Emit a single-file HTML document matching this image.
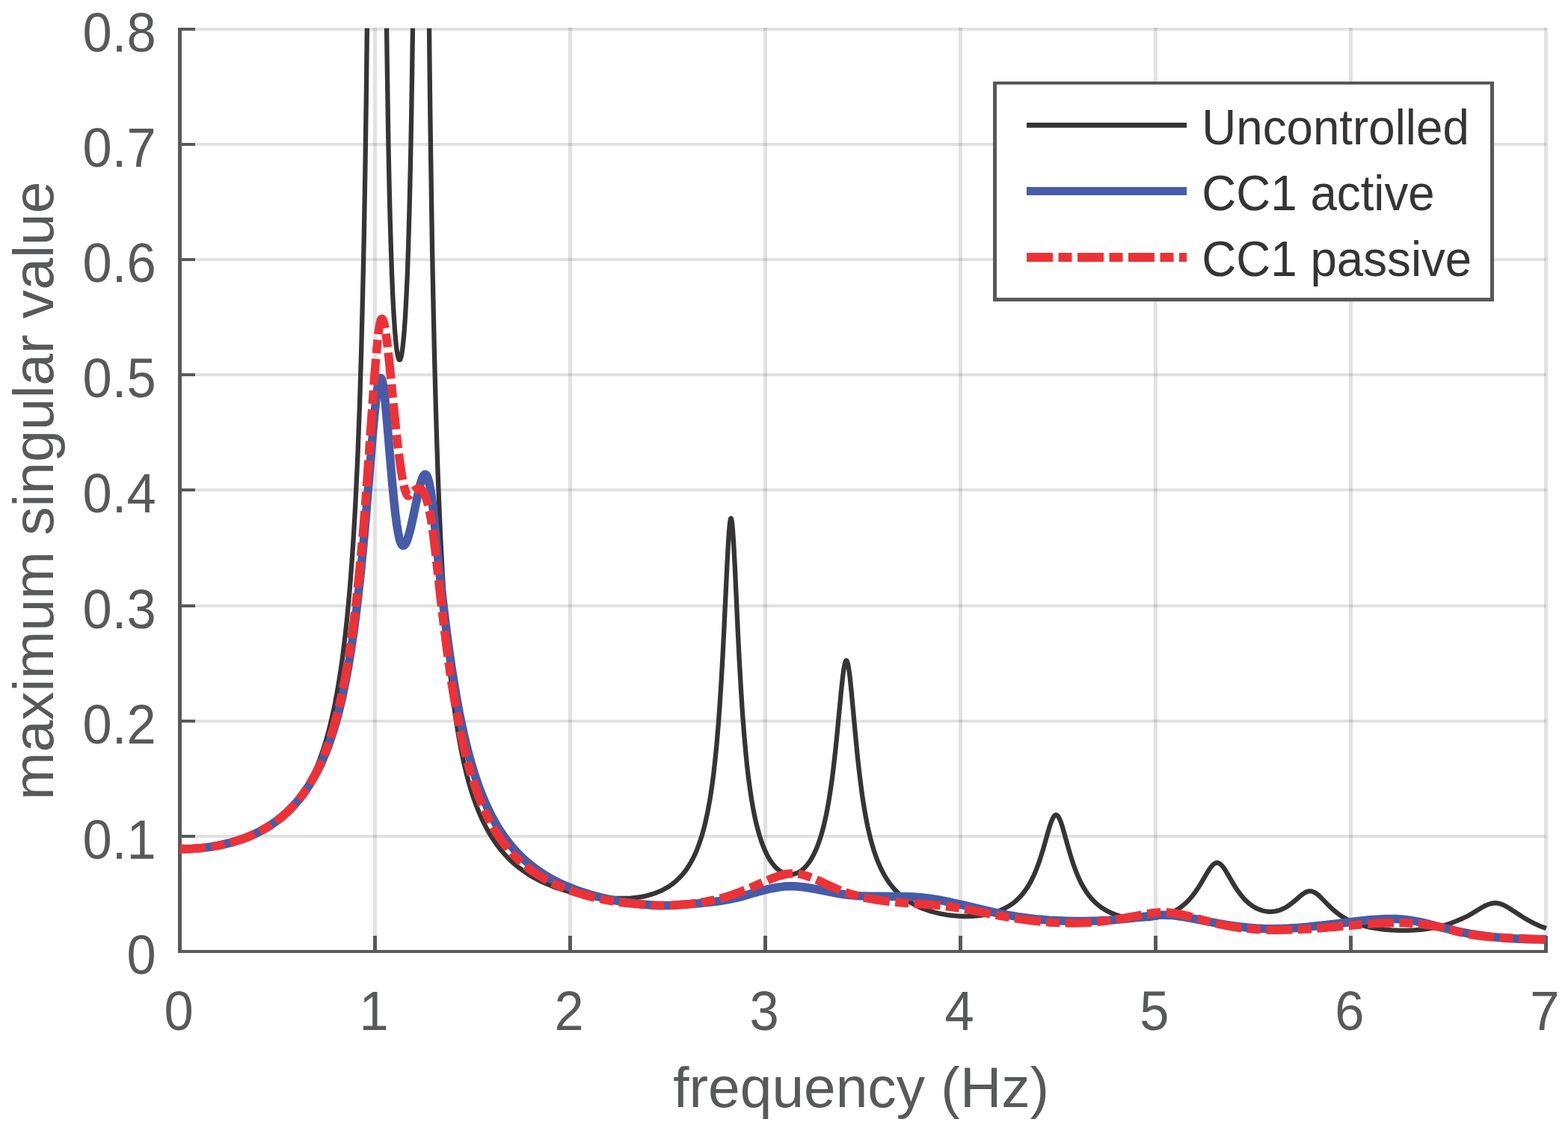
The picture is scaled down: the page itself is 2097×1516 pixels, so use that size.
<!DOCTYPE html>
<html lang="en"><head><meta charset="utf-8"><title>maximum singular value vs frequency</title>
<style>
html,body{margin:0;padding:0;background:#fff;}
body{width:2097px;height:1516px;overflow:hidden;}
svg{display:block;}
text{font-family:"Liberation Sans",Arial,Helvetica,sans-serif;}
.tk{font-size:70.5px;fill:#58595b;}
.lb{font-size:76.7px;fill:#58595b;}
.lg{font-size:63.7px;fill:#373435;}
</style></head><body>
<svg xmlns="http://www.w3.org/2000/svg" width="2097" height="1516" viewBox="0 0 2097 1516">
<defs><clipPath id="pc"><rect x="230.0" y="37.7" width="1850.0" height="1242.3"/></clipPath></defs>
<rect width="2097" height="1516" fill="#fff"/>

<g fill="#22262c" fill-opacity="0.135" shape-rendering="crispEdges">
<rect x="499" y="37" width="5" height="1214"/>
<rect x="760" y="37" width="5" height="1214"/>
<rect x="1021" y="37" width="5" height="1214"/>
<rect x="1282" y="37" width="5" height="1214"/>
<rect x="1543" y="37" width="5" height="1214"/>
<rect x="1804" y="37" width="5" height="1214"/>
<rect x="2065" y="37" width="5" height="1214"/>
<rect x="261" y="1116" width="1807" height="4"/>
<rect x="261" y="962" width="1807" height="4"/>
<rect x="261" y="808" width="1807" height="4"/>
<rect x="261" y="653" width="1807" height="4"/>
<rect x="261" y="499" width="1807" height="4"/>
<rect x="261" y="345" width="1807" height="4"/>
<rect x="261" y="191" width="1807" height="4"/>
<rect x="261" y="37" width="1807" height="4"/>
</g>
<g fill="#58595b" shape-rendering="crispEdges">
<rect x="238" y="37" width="5" height="1237"/>
<rect x="238" y="1270" width="1832" height="4"/>
<rect x="499" y="1251" width="5" height="19"/>
<rect x="760" y="1251" width="5" height="19"/>
<rect x="1021" y="1251" width="5" height="19"/>
<rect x="1282" y="1251" width="5" height="19"/>
<rect x="1543" y="1251" width="5" height="19"/>
<rect x="1804" y="1251" width="5" height="19"/>
<rect x="2065" y="1251" width="5" height="19"/>
<rect x="243" y="1116" width="18" height="4"/>
<rect x="243" y="962" width="18" height="4"/>
<rect x="243" y="808" width="18" height="4"/>
<rect x="243" y="653" width="18" height="4"/>
<rect x="243" y="499" width="18" height="4"/>
<rect x="243" y="345" width="18" height="4"/>
<rect x="243" y="191" width="18" height="4"/>
<rect x="243" y="37" width="18" height="4"/>
</g>
<g clip-path="url(#pc)" fill="none" stroke-linejoin="round">
<path d="M240.4 1135.1 L251.4 1134.9 L262.1 1134.3 L272.6 1133.3 L283.1 1131.8 L293.4 1130 L303.1 1127.8 L312.9 1125.2 L322.1 1122.3 L331.1 1119 L339.6 1115.3 L347.9 1111.3 L355.6 1107 L363.1 1102.3 L366.9 1099.7 L370.4 1097.2 L373.9 1094.5 L377.4 1091.6 L383.9 1085.9 L389.6 1080.2 L395.1 1074.3 L400.1 1068.3 L404.6 1062.2 L408.6 1056.2 L412.6 1049.3 L416.4 1042 L419.9 1034.5 L423.9 1024.9 L428.1 1013.7 L432.1 1002.2 L435.6 991.1 L438.9 979.7 L442.1 967.1 L445.1 954.1 L447.9 941.1 L450.6 926.6 L453.1 912.1 L455.6 896.1 L457.9 880.2 L460.1 862.7 L462.1 845.6 L464.1 826.8 L466.1 806 L467.9 785.9 L469.6 763.8 L471.4 739.4 L472.9 716.3 L474.4 690.9 L475.9 662.9 L478.4 609 L479.6 578.1 L480.9 543.8 L483.1 472.1 L485.1 394.2 L486.9 311.5 L488.4 226 L489.9 122.5 L491.1 17.8 L492.5 -121.1 M515.5 -111.2 L517 31.9 L517.8 89.2 L518.8 154.4 L519.5 196.4 L520.5 244.8 L521.5 286 L522.8 329.3 L524 364.9 L525.2 394.3 L526.5 418.4 L528 441.2 L529.5 458.3 L530.2 465 L531 470.4 L531.8 474.7 L532.5 477.9 L533.2 480 L533.8 480.8 L534.2 481.1 L534.8 481 L535.2 480.4 L536 478.6 L536.8 475.8 L537.5 471.9 L538.2 466.8 L539 460.7 L540.5 444.6 L542 423.2 L543.5 395.7 L544.8 367.3 L546 333 L547.2 291.7 L548.2 252.7 L549.2 207.1 L550.2 153.8 L551.2 90.9 L552 36.1 L553.5 -99.2 M572.6 -103.1 L573.6 0.5 L574.6 91.7 L575.6 172.1 L576.9 259.9 L578.1 335.8 L579.4 401.9 L580.9 470.5 L582.4 529.6 L583.9 581 L585.6 633 L587.6 683.8 L589.6 727.4 L591.9 769.5 L594.1 805.7 L596.6 840.3 L599.4 873.1 L602.4 903.6 L605.4 929.9 L608.6 954.5 L610.4 966.3 L612.4 978.8 L614.4 990.3 L616.4 1001 L618.4 1010.9 L620.6 1021.1 L622.9 1030.6 L625.1 1039.4 L627.6 1048.5 L630.1 1056.9 L632.6 1064.6 L635.4 1072.5 L638.1 1079.8 L641.1 1087.2 L644.1 1094 L647.4 1100.8 L650.6 1107.1 L653.9 1112.9 L657.4 1118.8 L661.1 1124.5 L664.9 1129.8 L668.9 1135 L672.9 1139.8 L677.1 1144.5 L681.6 1149.1 L686.1 1153.3 L689.4 1156.2 L692.6 1158.8 L699.4 1164 L706.4 1168.7 L713.9 1173.2 L721.6 1177.3 L729.9 1181.2 L738.4 1184.7 L747.1 1187.8 L756.4 1190.7 L765.9 1193.2 L775.9 1195.4 L785.9 1197.2 L795.9 1198.7 L806.1 1199.7 L817.9 1200.6 L828.6 1201 L836.6 1201 L844.1 1200.6 L851.1 1199.9 L858.4 1198.8 L865.4 1197.3 L872.1 1195.4 L878.4 1193.2 L884.4 1190.7 L889.9 1187.8 L895.1 1184.7 L900.1 1181.1 L904.9 1177.1 L909.1 1173 L913.4 1168.3 L917.4 1163.2 L921.1 1157.6 L924.1 1152.6 L926.9 1147.4 L929.4 1142.2 L931.9 1136.4 L934.4 1129.9 L936.6 1123.5 L938.9 1116.3 L940.9 1109.2 L942.9 1101.3 L944.6 1093.8 L946.4 1085.4 L948.1 1076.2 L949.9 1066 L951.4 1056.3 L952.9 1045.7 L954.4 1034 L956.6 1014.1 L958.6 993.7 L960.6 970.1 L962.6 942.8 L964.6 911.4 L966.6 875.6 L968.6 835.5 L972.4 755.6 L973.9 727.4 L974.9 712.1 L975.9 700.7 L976.4 696.9 L976.9 694.3 L977.1 693.5 L977.4 693.1 L977.6 693 L977.9 693.3 L978.4 694.9 L978.9 697.8 L979.4 702.1 L980.1 710.7 L981.1 725.7 L982.9 759.1 L986.6 840.1 L988.6 880.4 L990.9 920.6 L993.1 955.1 L995.4 984.3 L997.9 1011.7 L999.1 1023.7 L1000.6 1036.7 L1001.9 1046.6 L1003.4 1057.4 L1005.1 1068.8 L1007.1 1080.3 L1009.1 1090.5 L1011.1 1099.6 L1013.4 1108.6 L1015.6 1116.6 L1018.1 1124.4 L1020.9 1131.8 L1023.6 1138.2 L1026.3 1143.8 L1029.3 1149.1 L1032.6 1153.9 L1035.8 1157.9 L1037.6 1159.7 L1039.3 1161.4 L1041.1 1162.9 L1042.8 1164.2 L1044.6 1165.3 L1046.6 1166.4 L1048.3 1167.2 L1050.1 1167.9 L1051.8 1168.4 L1053.8 1168.8 L1055.6 1169 L1057.6 1169 L1059.6 1168.9 L1061.3 1168.6 L1063.3 1168.1 L1065.1 1167.5 L1066.8 1166.7 L1068.6 1165.8 L1070.3 1164.8 L1072.1 1163.5 L1073.8 1162.1 L1075.6 1160.5 L1078.8 1157.1 L1081.8 1153.2 L1084.8 1148.6 L1087.8 1143.2 L1090.6 1137.5 L1093.1 1131.5 L1095.6 1124.7 L1098.1 1116.9 L1099.8 1110.8 L1101.6 1104.1 L1103.3 1096.7 L1105.1 1088.6 L1106.8 1079.6 L1108.3 1071.2 L1109.8 1062 L1111.3 1052 L1112.8 1041.2 L1114.3 1029.5 L1117.3 1003.1 L1119.8 978.4 L1124.8 925.7 L1127.1 904.7 L1128.3 895.3 L1129.6 888.3 L1130.3 885.4 L1130.8 884.1 L1131.3 883.3 L1131.8 883 L1132.3 883.2 L1132.8 884 L1133.3 885.3 L1134.1 888.1 L1135.3 895.1 L1136.6 904.6 L1138.8 926.1 L1144.1 983.2 L1146.8 1011.1 L1148.6 1027.3 L1150.1 1040 L1151.6 1051.9 L1153.3 1064.5 L1155.1 1076 L1156.8 1086.4 L1158.6 1095.9 L1160.3 1104.6 L1162.1 1112.5 L1164.1 1120.7 L1166.1 1128.2 L1168.3 1135.7 L1171.1 1144 L1173.8 1151.3 L1176.8 1158.3 L1179.8 1164.6 L1183.1 1170.6 L1186.6 1176.3 L1190.3 1181.6 L1194.1 1186.4 L1198.3 1191.1 L1202.6 1195.3 L1207.3 1199.3 L1212.3 1203 L1217.6 1206.5 L1223.1 1209.5 L1229.1 1212.5 L1235.3 1215.1 L1242.6 1217.6 L1250.3 1219.8 L1258.3 1221.6 L1266.8 1223.1 L1275.3 1224.2 L1284.1 1224.8 L1292.6 1225 L1300.8 1224.8 L1308.6 1224.1 L1316.1 1223.1 L1323.3 1221.7 L1330.1 1219.8 L1336.3 1217.7 L1339.3 1216.4 L1342.3 1215 L1345.1 1213.6 L1347.8 1212.1 L1350.6 1210.4 L1353.1 1208.7 L1357.1 1205.7 L1361.1 1202.1 L1364.6 1198.6 L1368.1 1194.5 L1371.3 1190.2 L1374.6 1185.4 L1377.6 1180.3 L1380.3 1175 L1383.1 1169.2 L1385.6 1163.3 L1388.1 1156.7 L1390.6 1149.6 L1392.8 1142.6 L1395.1 1135.2 L1402.8 1108.1 L1404.3 1103.3 L1405.8 1099 L1407.6 1094.7 L1408.6 1092.8 L1409.3 1091.6 L1410.1 1090.6 L1410.8 1090 L1411.6 1089.6 L1412.3 1089.4 L1413.1 1089.6 L1413.8 1090 L1414.6 1090.7 L1415.6 1092 L1416.3 1093.3 L1417.3 1095.4 L1419.1 1099.9 L1420.6 1104.4 L1422.3 1110.3 L1428.8 1133.7 L1432.1 1144.8 L1435.6 1155.7 L1439.1 1165.3 L1442.1 1172.5 L1445.3 1179.4 L1448.6 1185.5 L1452.1 1191.2 L1454.3 1194.4 L1456.8 1197.8 L1459.3 1200.8 L1461.8 1203.5 L1464.6 1206.3 L1467.3 1208.7 L1470.3 1211.2 L1473.3 1213.4 L1476.6 1215.5 L1479.8 1217.4 L1483.3 1219.2 L1486.8 1220.8 L1490.6 1222.3 L1494.3 1223.6 L1498.1 1224.7 L1502.1 1225.7 L1506.6 1226.6 L1511.1 1227.4 L1515.8 1227.9 L1520.6 1228.3 L1525.3 1228.4 L1530.1 1228.4 L1534.8 1228.1 L1539.6 1227.7 L1544.1 1227 L1548.6 1226.2 L1552.8 1225.1 L1557.1 1223.9 L1561.1 1222.5 L1565.1 1220.9 L1568.8 1219.1 L1572.3 1217.2 L1575.1 1215.5 L1577.8 1213.7 L1580.3 1211.9 L1582.8 1209.8 L1585.3 1207.7 L1587.6 1205.5 L1590.1 1203 L1592.3 1200.5 L1594.8 1197.5 L1597.1 1194.5 L1599.3 1191.4 L1601.8 1187.8 L1606.3 1180.6 L1615.1 1165.7 L1617.3 1162.2 L1619.1 1159.7 L1621.3 1157 L1622.6 1155.7 L1623.6 1154.9 L1624.8 1154.2 L1625.8 1153.7 L1626.8 1153.5 L1627.8 1153.4 L1628.8 1153.5 L1629.8 1153.8 L1630.8 1154.3 L1631.8 1155 L1633.8 1156.8 L1636.1 1159.5 L1637.8 1161.9 L1639.8 1165.1 L1649.3 1181.4 L1651.8 1185.5 L1654.3 1189.3 L1657.1 1193.2 L1659.8 1196.8 L1662.6 1200.1 L1665.3 1203.1 L1668.3 1205.9 L1671.3 1208.5 L1674.6 1210.9 L1677.8 1212.9 L1681.1 1214.6 L1684.6 1216.1 L1687.8 1217.2 L1691.3 1218 L1694.3 1218.5 L1697.3 1218.8 L1700.3 1218.8 L1703.3 1218.5 L1706.3 1218.1 L1709.1 1217.4 L1712.1 1216.5 L1714.8 1215.4 L1717.3 1214.2 L1720.1 1212.7 L1722.6 1211.1 L1725.3 1209.2 L1730.1 1205.5 L1739.8 1197.1 L1742.1 1195.4 L1744.1 1194 L1746.3 1192.7 L1748.6 1191.8 L1750.6 1191.4 L1752.6 1191.3 L1754.6 1191.6 L1756.8 1192.4 L1759.1 1193.6 L1761.6 1195.3 L1763.6 1197 L1765.8 1199.1 L1777.6 1211.1 L1780.8 1214.2 L1784.1 1217.1 L1787.6 1220 L1791.3 1222.8 L1795.1 1225.4 L1799.1 1227.8 L1803.6 1230.2 L1808.1 1232.2 L1812.8 1234.2 L1817.8 1235.9 L1823.1 1237.5 L1828.6 1238.9 L1834.3 1240.1 L1840.6 1241.2 L1845.6 1241.9 L1850.6 1242.5 L1860.8 1243.4 L1871.3 1243.8 L1882.1 1243.8 L1892.6 1243.4 L1902.6 1242.5 L1907.6 1241.9 L1912.3 1241.2 L1917.1 1240.4 L1921.6 1239.5 L1928.1 1238 L1934.3 1236.2 L1940.3 1234.2 L1946.3 1231.9 L1955.6 1228 L1962.1 1224.9 L1968.6 1221.2 L1981.1 1213.6 L1984.1 1211.9 L1986.6 1210.7 L1989.8 1209.3 L1993.8 1208.1 L1996.8 1207.4 L1999.6 1207.2 L2002.6 1207.4 L2005.6 1208 L2008.3 1208.9 L2011.3 1210.2 L2014.1 1211.6 L2017.1 1213.4 L2035.6 1225.4 L2040.8 1228.6 L2045.6 1231.3 L2051.6 1234.4 L2058.1 1237.4 L2062.1 1239.1 L2067.9 1241.1" stroke="#373435" stroke-width="6.3"/>
<path d="M240.4 1135.1 L248.9 1135 L257.4 1134.6 L265.9 1134 L274.1 1133.1 L282.4 1132 L290.4 1130.6 L298.1 1129 L305.9 1127.2 L313.4 1125.1 L320.6 1122.8 L327.6 1120.3 L334.6 1117.5 L341.4 1114.5 L347.9 1111.3 L354.1 1107.9 L360.1 1104.2 L365.9 1100.4 L371.4 1096.4 L376.6 1092.3 L381.9 1087.7 L386.9 1083 L391.6 1078.1 L396.1 1073.1 L400.6 1067.7 L405.1 1061.8 L409.6 1055.5 L413.9 1049.1 L418.1 1042.1 L422.1 1035.1 L425.9 1027.9 L429.4 1020.7 L432.6 1013.3 L435.6 1006.1 L438.4 999 L441.1 991.4 L443.6 984 L446.1 976.1 L448.6 967.7 L451.1 958.7 L453.4 950.1 L455.6 940.9 L457.9 931.1 L460.1 920.6 L462.1 910.7 L464.1 900.1 L466.1 888.9 L469.9 865.8 L473.4 841.7 L476.9 814.6 L480.1 786.5 L483.4 755.5 L486.1 726.8 L489.1 693.1 L499.1 572.6 L500.9 553.6 L502.6 536.8 L503.6 528.5 L504.6 521.2 L505.6 515.2 L506.6 510.5 L507.6 507.3 L508.4 505.9 L508.9 505.5 L509.4 505.5 L509.9 505.9 L510.2 506.4 L510.2 506.4 L510.7 507.5 L511.2 509.1 L511.7 511.2 L512.5 515.2 L513.7 524 L515.2 537.4 L517.7 564.5 L522.5 621.6 L524.5 644.5 L526.7 668 L528.7 686.3 L530.7 701.6 L532.5 712.3 L533.5 717.2 L534.2 720.3 L535.2 723.7 L536.2 726.2 L537.2 727.9 L537.7 728.5 L538.5 729.1 L539 729.3 L539.5 729.3 L540 729.2 L540.7 728.7 L541.2 728.3 L542 727.3 L543.2 725.1 L544.5 722.2 L545.7 718.7 L548 710.9 L550.2 701.6 L552.5 691.3 L558 664.9 L560.5 653.8 L561.7 648.9 L563 644.4 L564.2 640.7 L565.2 638.2 L566.5 635.9 L567.5 634.8 L568.2 634.3 L568.7 634.3 L569.2 634.4 L569.7 634.7 L570.2 635.2 L570.7 635.9 L571.7 637.9 L572.7 640.8 L573.7 644.5 L575 650.5 L576.2 657.7 L577.5 666.4 L578.7 676.4 L580.5 692.6 L584.7 735.9 L587.2 759.9 L590.5 788.5 L595.2 828 L598.2 851.5 L601.2 873.5 L604 892.4 L607 911.6 L610.5 932.4 L614.2 952.6 L618 971 L621.7 987.8 L625.7 1004 L630 1019.6 L634.5 1034.5 L639 1047.9 L643.7 1060.6 L648.5 1072.1 L653.5 1083 L656 1088.1 L658.7 1093.4 L661.5 1098.4 L664.2 1103.2 L667.2 1108.1 L670.2 1112.7 L673.2 1117.2 L676.2 1121.3 L679.5 1125.6 L682.7 1129.7 L686 1133.6 L689.5 1137.5 L693 1141.2 L696.7 1145 L700.5 1148.5 L704.2 1151.9 L708 1155 L712 1158.2 L716 1161.3 L720.2 1164.3 L724.5 1167.1 L729 1170 L733.5 1172.7 L738.2 1175.4 L743 1177.9 L748 1180.4 L754.5 1183.4 L761 1186.1 L768 1188.9 L775 1191.4 L782.2 1193.8 L789.5 1196 L797.2 1198.1 L805 1200 L812.7 1201.8 L820.7 1203.4 L828.7 1204.8 L837 1206.1 L846.2 1207.3 L860.5 1209 L868 1209.7 L874.2 1210.2 L881.7 1210.5 L889.7 1210.4 L897.5 1210.2 L913.5 1209.3 L923.5 1208.6 L933.2 1207.8 L956.5 1205.3 L961.2 1204.7 L966.2 1203.9 L975 1202.3 L982 1200.9 L988.7 1199.4 L994.7 1197.8 L1008.5 1193.6 L1016.2 1191.5 L1025.2 1189.2 L1033 1187.5 L1041 1186.1 L1048.5 1185.1 L1055 1184.7 L1061 1184.8 L1065.5 1185 L1070.2 1185.4 L1075.2 1186 L1080.5 1186.8 L1091.2 1188.6 L1112.7 1192.9 L1121.7 1194.6 L1131.2 1196 L1140.5 1197.1 L1151 1197.8 L1162.5 1198.2 L1173.7 1198.3 L1200.7 1198.4 L1214.7 1198.7 L1221.7 1199 L1228.2 1199.5 L1234.7 1200.1 L1241.2 1200.9 L1248 1201.8 L1255 1203 L1262.5 1204.4 L1270.5 1206 L1285.7 1209.4 L1325.7 1218.8 L1337.2 1221.3 L1348 1223.3 L1361.5 1225.6 L1375.2 1227.5 L1389.2 1229.1 L1403.2 1230.3 L1419.2 1231.1 L1435.2 1231.6 L1451.5 1231.5 L1468 1231.1 L1484 1230.2 L1500.2 1228.8 L1514.7 1227.3 L1536.5 1224.6 L1544.7 1223.8 L1549.5 1223.5 L1553.7 1223.3 L1558 1223.3 L1562 1223.4 L1566.7 1223.6 L1571.5 1224.1 L1576.5 1224.7 L1582 1225.5 L1590.7 1227.1 L1615.5 1231.9 L1629.7 1234.6 L1643.5 1236.9 L1656 1238.6 L1668 1240 L1679.5 1241 L1690.7 1241.5 L1702.5 1241.7 L1712.7 1241.5 L1723.5 1241.1 L1734.7 1240.4 L1746.7 1239.4 L1757.5 1238.3 L1769.5 1237 L1818.2 1231.2 L1827.7 1230.2 L1836 1229.5 L1844.5 1228.9 L1852.5 1228.6 L1860.2 1228.5 L1867.5 1228.6 L1874.5 1229 L1881.5 1229.7 L1888 1230.6 L1895 1231.8 L1901.5 1233.1 L1908.5 1234.8 L1936.7 1242 L1949.7 1245.1 L1958.2 1246.8 L1966.7 1248.4 L1975.2 1249.8 L1984 1251 L1993.7 1252.3 L2003.7 1253.3 L2014 1254.2 L2024.2 1254.8 L2034.7 1255.3 L2045.5 1255.7 L2056.4 1255.8 L2067.9 1255.8" stroke="#465ca8" stroke-width="11.5"/>
<path d="M240.4 1135.1 L249.4 1135 L258.1 1134.6 L266.9 1133.9 L275.4 1132.9 L283.9 1131.7 L292.1 1130.3 L300.4 1128.5 L308.4 1126.5 L316.1 1124.3 L323.6 1121.8 L330.9 1119.1 L337.9 1116.1 L344.6 1112.9 L351.4 1109.4 L357.6 1105.8 L363.9 1101.8 L369.6 1097.7 L375.4 1093.3 L380.9 1088.6 L386.1 1083.7 L391.1 1078.7 L395.9 1073.4 L400.6 1067.7 L405.1 1061.8 L409.4 1055.7 L413.6 1049.2 L417.6 1042.4 L421.6 1035.1 L425.4 1027.6 L428.9 1020.1 L432.4 1011.9 L435.6 1003.7 L438.6 995.6 L441.4 987.6 L444.1 978.9 L446.6 970.6 L449.1 961.6 L451.6 952 L454.1 941.7 L456.4 931.7 L458.6 921.1 L460.9 909.8 L463.1 897.6 L465.1 886 L467.1 873.7 L469.1 860.5 L472.9 833.3 L476.4 804.6 L479.6 774.7 L482.9 741.4 L485.9 707.4 L488.4 676.6 L491.1 640.2 L500.6 505.8 L502.4 483.4 L503.9 466.1 L505.6 449.1 L506.6 441.2 L507.4 436.3 L508.4 431.2 L509.1 428.5 L509.9 426.9 L510.4 426.4 L510.7 426.3 L510.7 426.3 L510.9 426.3 L511.4 426.7 L512.2 428 L513 430.1 L514 433.9 L514.7 437.7 L515.7 443.6 L517.5 456.2 L519 468.9 L520.7 485.2 L527.5 553.8 L530.7 584.7 L532.5 599.9 L534 611.9 L535.5 622.8 L537 632.6 L538.7 642.4 L540.2 649.5 L541.7 655.1 L542.5 657.4 L543.2 659.3 L544 660.8 L544.7 661.9 L545.5 662.6 L546 662.8 L546.7 662.7 L547.5 662.2 L548.2 661.2 L548.8 660 L548.8 660 L555 655.2 L556.5 654.2 L558 653.5 L559.5 653.1 L561 653.1 L562.3 653.5 L563.5 654.3 L565 655.9 L566.3 657.7 L567.5 660 L568.8 662.9 L570 666.4 L571.3 670.5 L572.5 675.2 L573.5 679.4 L575 686.6 L576.5 694.8 L578 704.1 L579.5 714.7 L582.5 739.2 L590 806.4 L593.3 833.6 L596.3 857.5 L599.5 881.8 L602.5 902.7 L605.5 922.2 L608.8 941.6 L612.3 960.8 L615.8 978.3 L619.5 995.3 L623.5 1011.7 L627.5 1026.5 L631.8 1040.7 L636.3 1054.3 L638.5 1060.5 L641 1067.1 L645.8 1078.5 L648.3 1084.1 L650.8 1089.4 L653.3 1094.4 L656 1099.7 L658.8 1104.6 L661.5 1109.3 L664.3 1113.7 L667.3 1118.3 L670.3 1122.6 L673.5 1127.1 L676.8 1131.2 L680 1135.2 L683.3 1138.9 L686.8 1142.7 L690.3 1146.3 L693.8 1149.7 L697.5 1153.1 L701.3 1156.3 L705.3 1159.5 L709.3 1162.6 L713.3 1165.5 L717.5 1168.3 L721.8 1171.1 L726.3 1173.8 L730.8 1176.3 L735.5 1178.8 L740.3 1181.1 L745.3 1183.5 L750.3 1185.6 L755.5 1187.8 L763.5 1190.8 L771.8 1193.5 L780.3 1196.1 L789 1198.4 L798 1200.6 L807.5 1202.6 L817 1204.3 L826.8 1205.8 L837.8 1207.3 L849 1208.4 L861.8 1209.4 L875.3 1210.3 L883 1210.5 L890 1210.6 L896.3 1210.4 L908.8 1209.8 L915.5 1209.3 L922.3 1208.6 L929 1207.7 L936 1206.6 L943.5 1205.3 L954.5 1203.1 L961.3 1201.5 L967.3 1200 L972.3 1198.6 L977.8 1196.8 L983.5 1194.7 L990 1192.3 L997.8 1189.2 L1008.5 1184.7 L1029.5 1175.6 L1035 1173.4 L1040 1171.6 L1046.3 1169.7 L1049.3 1169 L1051.8 1168.5 L1054.8 1168.1 L1057.5 1167.9 L1060.3 1167.8 L1063 1167.9 L1067 1168.2 L1071.3 1168.9 L1075.8 1170 L1080.5 1171.5 L1085.5 1173.3 L1090.8 1175.5 L1096.8 1178.1 L1115.3 1186.8 L1121.3 1189.3 L1127.5 1191.8 L1135.5 1194.5 L1144 1197 L1152.5 1199.2 L1161.5 1201.1 L1168.5 1202.3 L1176 1203.5 L1183.8 1204.5 L1192.3 1205.5 L1208.3 1206.9 L1237.3 1208.9 L1248.8 1209.8 L1260.5 1210.9 L1271 1212.2 L1281.3 1213.7 L1292.8 1215.7 L1304.3 1217.8 L1335 1223.8 L1353 1226.9 L1363.8 1228.6 L1374.3 1230 L1384.5 1231.2 L1394.5 1232.2 L1403.3 1232.9 L1412 1233.4 L1420.5 1233.7 L1429 1233.9 L1437.3 1233.9 L1445.5 1233.8 L1453.8 1233.4 L1461.8 1232.9 L1468.8 1232.3 L1475.8 1231.6 L1483 1230.6 L1490.5 1229.6 L1506 1227 L1531.8 1222.2 L1540.3 1220.8 L1545.3 1220.3 L1550 1219.9 L1554.5 1219.7 L1558.8 1219.8 L1564 1220.1 L1569.5 1220.7 L1575.3 1221.6 L1581.5 1222.9 L1587 1224.1 L1593 1225.7 L1613.5 1231.3 L1621.3 1233.4 L1630 1235.4 L1638.8 1237.2 L1648.3 1238.8 L1657.8 1240.2 L1667.8 1241.3 L1677.8 1242.2 L1690.8 1242.9 L1704.3 1243.2 L1718.5 1243.1 L1733.5 1242.7 L1748.5 1241.9 L1765 1240.8 L1781.8 1239.4 L1819 1236 L1838.8 1234.5 L1849.8 1234 L1860.3 1233.7 L1870 1233.6 L1879.5 1233.8 L1888.8 1234.3 L1897.8 1235 L1906.5 1236 L1915 1237.3 L1921.8 1238.6 L1928.3 1240 L1951.3 1245.9 L1960 1247.9 L1965 1248.9 L1970 1249.8 L1980.8 1251.3 L1993.3 1252.5 L2008 1253.5 L2022 1254.2 L2053.8 1255.4 L2067.9 1256.1" stroke="#ed3237" stroke-width="11.5" stroke-dasharray="35 7.5 18 7.5" stroke-dashoffset="0"/>
</g>
<g class="tk">
<text transform="translate(239.20 1376.80) scale(1 1.04)" text-anchor="middle">0</text>
<text transform="translate(500.15 1376.80) scale(1 1.04)" text-anchor="middle">1</text>
<text transform="translate(761.10 1376.80) scale(1 1.04)" text-anchor="middle">2</text>
<text transform="translate(1022.05 1376.80) scale(1 1.04)" text-anchor="middle">3</text>
<text transform="translate(1283.00 1376.80) scale(1 1.04)" text-anchor="middle">4</text>
<text transform="translate(1543.95 1376.80) scale(1 1.04)" text-anchor="middle">5</text>
<text transform="translate(1804.90 1376.80) scale(1 1.04)" text-anchor="middle">6</text>
<text transform="translate(2065.85 1376.80) scale(1 1.04)" text-anchor="middle">7</text>
<text transform="translate(208.60 1301.90) scale(1 1.04)" text-anchor="end">0</text>
<text transform="translate(208.60 1147.79) scale(1 1.04)" text-anchor="end">0.1</text>
<text transform="translate(208.60 993.68) scale(1 1.04)" text-anchor="end">0.2</text>
<text transform="translate(208.60 839.57) scale(1 1.04)" text-anchor="end">0.3</text>
<text transform="translate(208.60 685.46) scale(1 1.04)" text-anchor="end">0.4</text>
<text transform="translate(208.60 531.35) scale(1 1.04)" text-anchor="end">0.5</text>
<text transform="translate(208.60 377.24) scale(1 1.04)" text-anchor="end">0.6</text>
<text transform="translate(208.60 223.13) scale(1 1.04)" text-anchor="end">0.7</text>
<text transform="translate(208.60 69.02) scale(1 1.04)" text-anchor="end">0.8</text>
</g>
<text class="lb" transform="translate(1151.70 1479.90) scale(1 1.0)" text-anchor="middle">frequency (Hz)</text>
<text class="lb" transform="translate(70.90 656.00) rotate(-90) scale(1 1.0)" text-anchor="middle">maximum singular value</text>
<rect x="1330.5" y="111.0" width="664.5" height="289.5" fill="#fff"/>
<g fill="#58595b" shape-rendering="crispEdges">
<rect x="1328" y="109" width="5" height="294"/>
<rect x="1993" y="109" width="5" height="294"/>
<rect x="1328" y="109" width="670" height="4"/>
<rect x="1328" y="398" width="670" height="5"/>
</g>
<line x1="1373.0" y1="167.45" x2="1587.0" y2="167.45" stroke="#373435" stroke-width="6.7"/>
<line x1="1373.0" y1="255.4" x2="1587.0" y2="255.4" stroke="#465ca8" stroke-width="11.0"/>
<line x1="1373.0" y1="343.9" x2="1587.0" y2="343.9" stroke="#ed3237" stroke-width="12.0" stroke-dasharray="35 7.5 18 7.5"/>
<text class="lg" transform="translate(1607.3 192.8) scale(1 1.045)">Uncontrolled</text>
<text class="lg" transform="translate(1607.3 281.0) scale(1 1.045)">CC1 active</text>
<text class="lg" transform="translate(1607.3 369.3) scale(1 1.045)">CC1 passive</text>
</svg>
</body></html>
